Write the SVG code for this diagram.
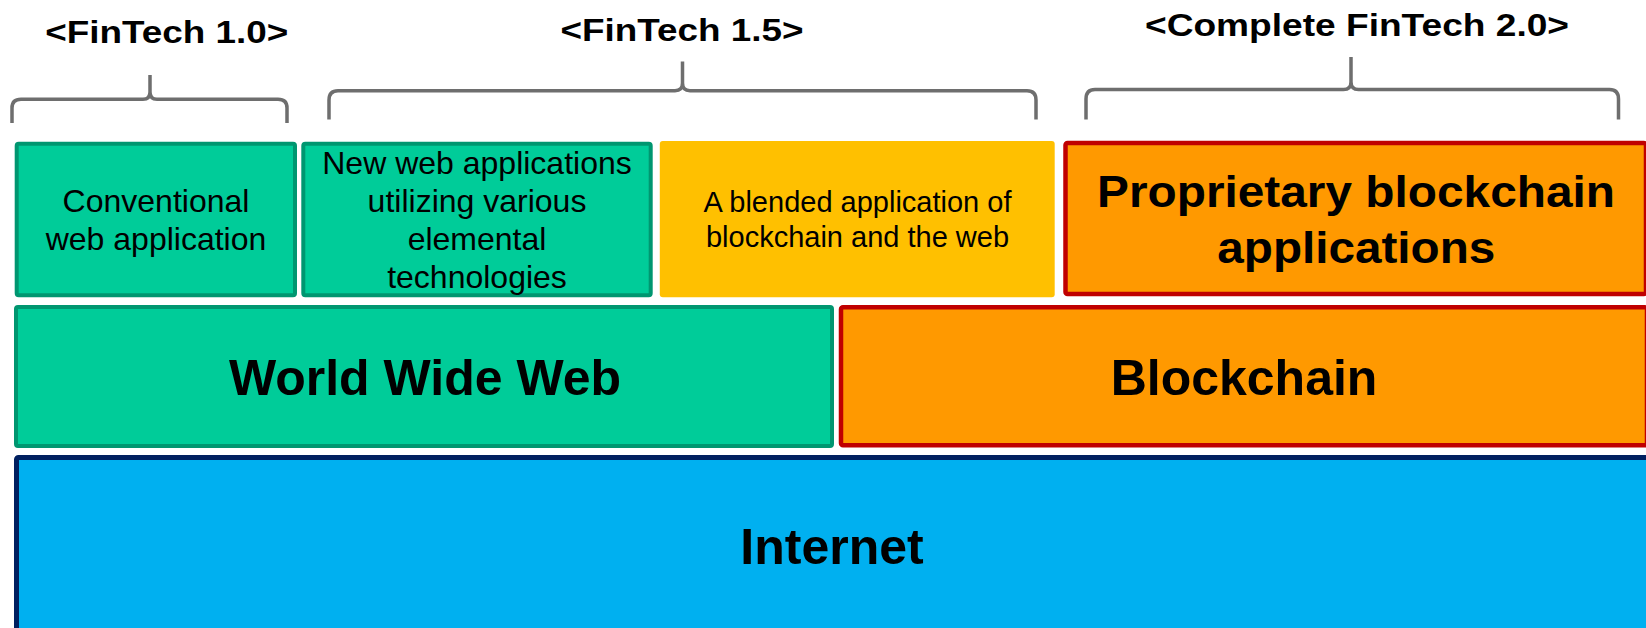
<svg xmlns="http://www.w3.org/2000/svg" width="1646" height="628" viewBox="0 0 1646 628">
  <style>
    text { font-family: "Liberation Sans", Arial, sans-serif; fill: #000; text-anchor: middle; }
    .title { font-size: 32px; font-weight: bold; }
    .reg { font-size: 32px; }
    .small { font-size: 29px; }
    .big { font-size: 50px; font-weight: bold; }
    .prop { font-size: 44px; font-weight: bold; }
    .green { fill: #00CC99; stroke: #009670; stroke-width: 4; }
    .orange { fill: #FF9900; stroke: #C00000; stroke-width: 4.5; }
    .yellow { fill: #FFC000; }
    .blue { fill: #00B0F0; stroke: #002060; stroke-width: 5; }
    .brace { fill: none; stroke: #6E6E6E; stroke-width: 3.5; stroke-linejoin: round; }
  </style>
  <rect width="1646" height="628" fill="#FFFFFF"/>

  <g id="brackets">
    <path class="brace" d="M12,123 V108 Q12,99.3 21,99.3 H143 Q150,99.3 150,92 V75 M150,92 Q150,99.3 157,99.3 H278 Q287,99.3 287,108 V123"/>
    <path class="brace" d="M329,119.5 V100 Q329,90.7 338,90.7 H675 Q682.5,90.7 682.5,83 V61.5 M682.5,83 Q682.5,90.7 690,90.7 H1027 Q1036,90.7 1036,100 V119.5"/>
    <path class="brace" d="M1086,119.5 V99 Q1086,89.5 1095,89.5 H1343.5 Q1351,89.5 1351,82 V57 M1351,82 Q1351,89.5 1358.5,89.5 H1609.5 Q1618.5,89.5 1618.5,99 V119.5"/>
  </g>

  <g id="titles">
    <text class="title" x="166.7" y="43.3" textLength="243" lengthAdjust="spacingAndGlyphs">&lt;FinTech 1.0&gt;</text>
    <text class="title" x="682" y="40.5" textLength="243" lengthAdjust="spacingAndGlyphs">&lt;FinTech 1.5&gt;</text>
    <text class="title" x="1357" y="35.5" textLength="424" lengthAdjust="spacingAndGlyphs">&lt;Complete FinTech 2.0&gt;</text>
  </g>

  <g id="internet">
    <rect class="blue" x="16.5" y="457.5" width="1640" height="190" rx="2"/>
    <text class="big" x="832" y="563.5">Internet</text>
  </g>

  <g id="www">
    <rect class="green" x="16" y="307" width="816" height="139" rx="2"/>
    <text class="big" x="425" y="395">World Wide Web</text>
  </g>

  <g id="blockchain">
    <rect class="orange" x="841" y="307.3" width="806" height="138" rx="2"/>
    <text class="big" x="1244" y="395">Blockchain</text>
  </g>

  <g id="conventional">
    <rect class="green" x="16.7" y="143.7" width="278.3" height="151.6" rx="2"/>
    <text class="reg" x="156" y="211.7">Conventional</text>
    <text class="reg" x="156" y="250">web application</text>
  </g>

  <g id="new-web">
    <rect class="green" x="303.3" y="143.7" width="347.4" height="151.6" rx="2"/>
    <text class="reg" x="477" y="173.5">New web applications</text>
    <text class="reg" x="477" y="211.7">utilizing various</text>
    <text class="reg" x="477" y="250">elemental</text>
    <text class="reg" x="477" y="288">technologies</text>
  </g>

  <g id="blended">
    <rect class="yellow" x="659.8" y="141" width="394.9" height="156.3" rx="3"/>
    <text class="small" x="857.5" y="212">A blended application of</text>
    <text class="small" x="857.5" y="247">blockchain and the web</text>
  </g>

  <g id="proprietary">
    <rect class="orange" x="1065.5" y="143" width="580.5" height="151" rx="2"/>
    <text class="prop" x="1356" y="206.7" textLength="518" lengthAdjust="spacingAndGlyphs">Proprietary blockchain</text>
    <text class="prop" x="1356.3" y="263.3" textLength="278" lengthAdjust="spacingAndGlyphs">applications</text>
  </g>
</svg>
